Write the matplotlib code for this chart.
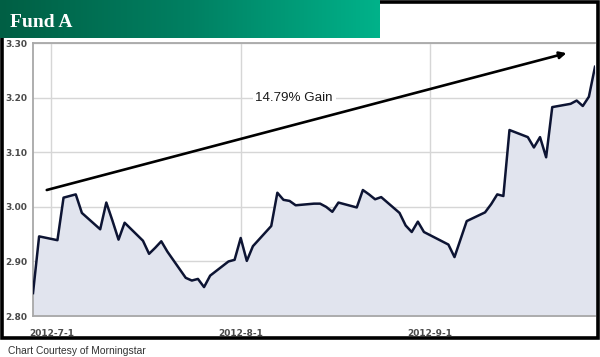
import numpy as np
import pandas as pd
import matplotlib
matplotlib.use("Agg")
import matplotlib.pyplot as plt
from matplotlib.colors import LinearSegmentedColormap
from matplotlib.patches import Rectangle

# daily NAV
dates = ["2012-06-28", "2012-06-29", "2012-07-02", "2012-07-03", "2012-07-05", "2012-07-06",
         "2012-07-09", "2012-07-10", "2012-07-11", "2012-07-12", "2012-07-13",
         "2012-07-16", "2012-07-17", "2012-07-18", "2012-07-19", "2012-07-20",
         "2012-07-23", "2012-07-24", "2012-07-25", "2012-07-26", "2012-07-27",
         "2012-07-30", "2012-07-31", "2012-08-01", "2012-08-02", "2012-08-03",
         "2012-08-06", "2012-08-07", "2012-08-08", "2012-08-09", "2012-08-10",
         "2012-08-13", "2012-08-14", "2012-08-15", "2012-08-16", "2012-08-17",
         "2012-08-20", "2012-08-21", "2012-08-22", "2012-08-23", "2012-08-24",
         "2012-08-27", "2012-08-28", "2012-08-29", "2012-08-30", "2012-08-31",
         "2012-09-04", "2012-09-05", "2012-09-06", "2012-09-07",
         "2012-09-10", "2012-09-11", "2012-09-12", "2012-09-13", "2012-09-14",
         "2012-09-17", "2012-09-18", "2012-09-19", "2012-09-20", "2012-09-21",
         "2012-09-24", "2012-09-25", "2012-09-26", "2012-09-27", "2012-09-28"]
nav = [2.842, 2.946, 2.939, 3.017, 3.023, 2.989,
       2.959, 3.008, 2.975, 2.940, 2.971,
       2.938, 2.914, 2.925, 2.937, 2.918,
       2.870, 2.865, 2.868, 2.853, 2.874,
       2.900, 2.903, 2.943, 2.901, 2.928,
       2.965, 3.026, 3.013, 3.011, 3.003,
       3.006, 3.006, 3.000, 2.991, 3.008,
       2.999, 3.031, 3.023, 3.014, 3.018,
       2.989, 2.966, 2.954, 2.973, 2.954,
       2.931, 2.908, 2.941, 2.974,
       2.990, 3.005, 3.023, 3.020, 3.141,
       3.128, 3.109, 3.128, 3.091, 3.183,
       3.189, 3.195, 3.185, 3.202, 3.257]

x_ticks = ["2012-07-01", "2012-08-01", "2012-09-01"]
x_tick_labels = ["2012-7-1", "2012-8-1", "2012-9-1"]
y_ticks = [2.80, 2.90, 3.00, 3.10, 3.20, 3.30]

arrow_start = ("2012-06-30 06:00", 3.031)
arrow_end = ("2012-09-23 08:00", 3.282)
gain_label = "14.79% Gain"
gain_pos = ("2012-08-09 18:00", 3.20)

W, H = 600, 357
fig = plt.figure(figsize=(W / 100, H / 100), dpi=100)

# main plot
ax = fig.add_axes([33 / W, 1 - 316 / H, (595 - 33) / W, (316 - 43.3) / H])
d = pd.to_datetime(dates)
ax.fill_between(d, nav, 2.80, color="#e1e4ee", zorder=1)
ax.plot(d, nav, color="#0d1433", lw=1.8, zorder=3)

ax.set_xlim(pd.Timestamp("2012-06-28"), pd.Timestamp("2012-09-28"))
ax.set_ylim(2.80, 3.30)
ax.set_yticks(y_ticks)
ax.set_yticklabels([f"{v:.2f}" for v in y_ticks])
ax.set_xticks(pd.to_datetime(x_ticks))
ax.set_xticklabels(x_tick_labels)
ax.grid(True, color="#d6d6d6", lw=1, zorder=0)
ax.set_axisbelow(True)
ax.tick_params(length=0, labelsize=6.5, labelcolor="#4a4a4a")
ax.tick_params(axis="y", pad=4)
ax.tick_params(axis="x", pad=9)
for t in ax.get_yticklabels() + ax.get_xticklabels():
    t.set_fontweight("bold")
for s in ["left", "top", "bottom"]:
    ax.spines[s].set_color("#a8a8a8")
    ax.spines[s].set_linewidth(1.3)
ax.spines["right"].set_visible(False)

# gain arrow and label
ax.annotate("", xy=(pd.Timestamp(arrow_end[0]), arrow_end[1]),
            xytext=(pd.Timestamp(arrow_start[0]), arrow_start[1]),
            arrowprops=dict(arrowstyle="-|>", color="black", lw=1.9,
                            mutation_scale=10, shrinkA=0, shrinkB=0), zorder=5)
ax.text(pd.Timestamp(gain_pos[0]), gain_pos[1], gain_label, ha="center", va="center",
        fontsize=9.6, color="#1a1a1a", family="Liberation Sans",
        bbox=dict(facecolor="white", edgecolor="none", pad=2), zorder=4)

# black frame around the chart
fig.patches.append(Rectangle((1.5 / W, 1 - 338 / H), 596 / W, 336 / H, fill=False,
                             edgecolor="black", lw=2.6, transform=fig.transFigure, zorder=10))

# green header with gradient
hax = fig.add_axes([0, 1 - 38 / H, 380 / W, 38 / H], zorder=11)
cmap = LinearSegmentedColormap.from_list("hdr", ["#005f44", "#008062", "#00b28a"])
hax.imshow(np.linspace(0, 1, 256).reshape(1, -1), cmap=cmap, aspect="auto",
           extent=[0, 1, 0, 1])
hax.set_axis_off()
hax.text(10 / 380, 0.42, "Fund A", color="white", fontsize=14, fontweight="bold",
         family="Liberation Serif", va="center", ha="left", transform=hax.transAxes)

fig.text(8 / W, 1 - 351 / H, "Chart Courtesy of Morningstar", fontsize=7.4,
         color="#333333", family="Liberation Sans", va="center", ha="left")

fig.savefig("out.png", dpi=100)
